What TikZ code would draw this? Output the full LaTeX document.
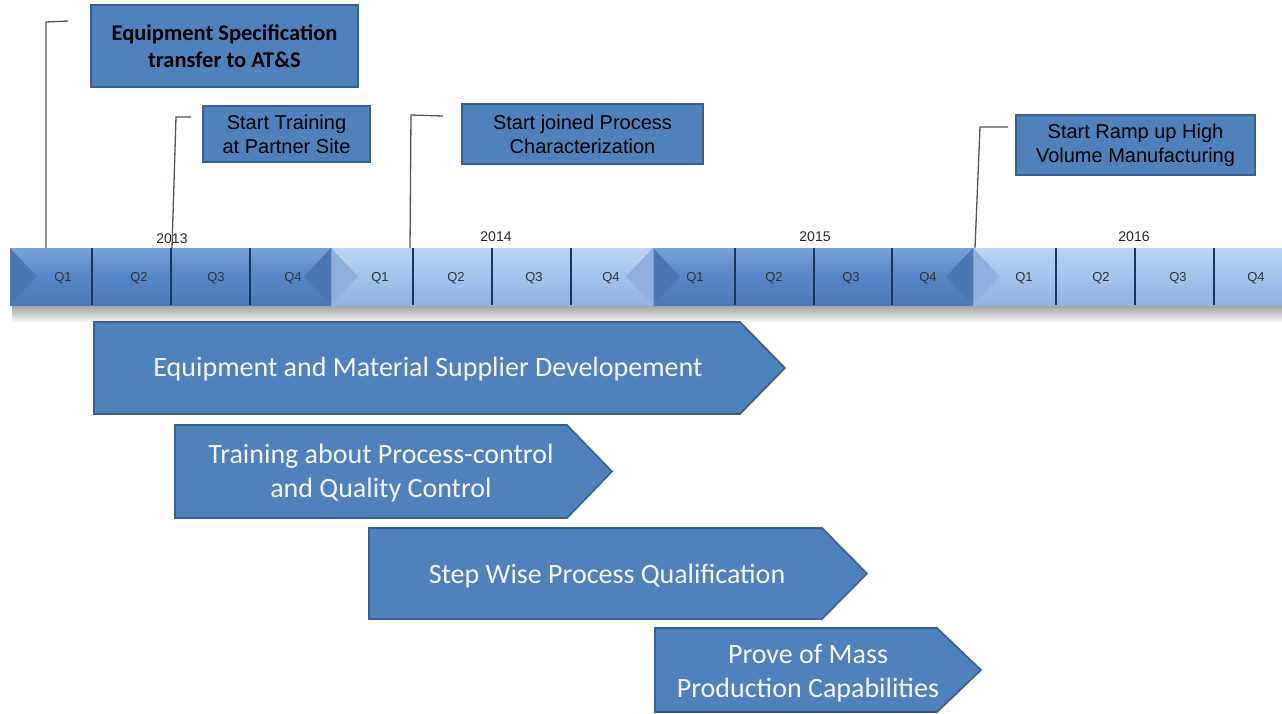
\documentclass[tikz,border=0pt]{standalone}
\usepackage{fontspec}
\setmainfont{Liberation Sans}
\newfontfamily\calfont{Carlito}
\usetikzlibrary{calc}

\definecolor{officeblue}{HTML}{4F81BD}
\definecolor{boxedge}{HTML}{3A5E8D}
\definecolor{darktop}{HTML}{78A3DA}
\definecolor{darkmid}{HTML}{5686C6}
\definecolor{darkbot}{HTML}{4C7BB8}
\definecolor{lighttop}{HTML}{BAD4F3}
\definecolor{lightmid}{HTML}{A4C3EC}
\definecolor{lightbot}{HTML}{90B3E0}
\definecolor{darkfacet}{HTML}{4A78B5}
\definecolor{lightfacet}{HTML}{8DB0DD}
\definecolor{divider}{HTML}{17375E}
\definecolor{leadergrey}{HTML}{50565E}
\definecolor{phasetxt}{HTML}{F4F6FA}

\begin{document}
\begin{tikzpicture}[x=1pt,y=-1pt,
  qlabel/.style={font=\fontsize{13}{15}\selectfont, text=black!80, inner sep=0pt},
  ylabel/.style={font=\fontsize{14}{16}\selectfont, text=black!85, inner sep=0pt},
  milestone/.style={draw=boxedge, line width=1.2pt, fill=officeblue, align=center,
    font=\fontsize{20}{24}\selectfont, inner sep=0pt},
  leader/.style={draw=leadergrey, line width=1.3pt},
  phase/.style={draw=boxedge, line width=1.6pt, fill=officeblue, line join=miter},
  phasetext/.style={text=phasetxt, align=center, font=\calfont\fontsize{28}{34}\selectfont, inner sep=0pt},
  darkyear/.style={top color=darktop, bottom color=darkbot, middle color=darkmid},
  lightyear/.style={top color=lighttop, bottom color=lightbot, middle color=lightmid},
  divline/.style={draw=divider, line width=1.6pt}
]
\useasboundingbox (0,0) rectangle (1282,713);

% soft shadow below the time bar
\shade[top color=black!38, bottom color=white] (12,305) rectangle (1282,323);

% year segments of the time bar
\shade[darkyear]  (10,248)  rectangle (331,305);
\shade[lightyear] (331,248) rectangle (653,305);
\shade[darkyear]  (653,248) rectangle (973,305);
\shade[lightyear] (973,248) rectangle (1282,305);

% bevel facets at the ends of each year
\foreach \a/\b/\c in {10/331/darkfacet, 331/653/lightfacet, 653/973/darkfacet}{
  \fill[\c] (\a,248) -- (\a+27,276.5) -- (\a,305) -- cycle;
  \fill[\c] (\b,248) -- (\b-27,276.5) -- (\b,305) -- cycle;
}
\fill[lightfacet] (973,248) -- (1000,276.5) -- (973,305) -- cycle;

% year boundaries
\foreach \x in {331,653,973}{
  \draw[black!40, line width=0.8pt] (\x,248) -- (\x,305);
}

% quarter dividers
\foreach \x in {92,171,250,413,492,571,735,814,892,1056,1135,1214}{
  \draw[divline] (\x,248) -- (\x,305);
}

% quarter labels
\foreach \x/\q [count=\i] in {63/Q1,139/Q2,216/Q3,293/Q4,380/Q1,456/Q2,534/Q3,611/Q4,
                             695/Q1,774/Q2,851/Q3,928/Q4,1024/Q1,1101/Q2,1178/Q3,1256/Q4}{
  \node[qlabel] (q\i) at (\x,278) {\q};
}

% year labels
\node[ylabel] (y13) at (172,239) {2013};
\node[ylabel] (y14) at (496,237) {2014};
\node[ylabel] (y15) at (815,237) {2015};
\node[ylabel] (y16) at (1134,237) {2016};

% milestone boxes
\node[milestone, minimum width=267pt, minimum height=82pt,
      font=\calfont\bfseries\fontsize{22.5}{27}\selectfont] (m1) at (224.5,46)
      {Equipment Specification\\transfer to AT\&S};
\node[milestone, minimum width=167pt, minimum height=56pt] (m2) at (286.5,134)
      {Start Training\\at Partner Site};
\node[milestone, minimum width=241pt, minimum height=60pt] (m3) at (582.5,134)
      {Start joined Process\\Characterization};
\node[milestone, minimum width=239pt, minimum height=60pt] (m4) at (1135.5,145)
      {Start Ramp up High\\Volume Manufacturing};

% leader lines from the time bar up towards each milestone
\coordinate (a1) at (46,248);   \coordinate (b1) at (46,22);   \coordinate (c1) at (68,21);
\coordinate (a2) at (172,248);  \coordinate (b2) at (176,117); \coordinate (c2) at (191,117);
\coordinate (a3) at (410,248);  \coordinate (b3) at (411,115); \coordinate (c3) at (443,116);
\coordinate (a4) at (975,248);  \coordinate (b4) at (980,127); \coordinate (c4) at (1008,127);
\foreach \i in {1,2,3,4}{
  \draw[leader] (a\i) -- (b\i) -- (c\i);
}

% phase chevrons
\draw[phase] (94,322) -- (740,322) -- (785,368) -- (740,414) -- (94,414) -- cycle;
\node[phasetext] (p1) at (428,369) {Equipment and Material Supplier Developement};

\draw[phase] (175,425) -- (567,425) -- (612,471.5) -- (567,518) -- (175,518) -- cycle;
\node[phasetext] (p2) at (381,473) {Training about Process-control\\and Quality Control};

\draw[phase] (369,528) -- (822,528) -- (867,573.5) -- (822,619) -- (369,619) -- cycle;
\node[phasetext] (p3) at (607,576) {Step Wise Process Qualification};

\draw[phase] (655,628) -- (937,628) -- (981,670) -- (937,712) -- (655,712) -- cycle;
\node[phasetext] (p4) at (808,673) {Prove of Mass\\Production Capabilities};

\end{tikzpicture}
\end{document}
